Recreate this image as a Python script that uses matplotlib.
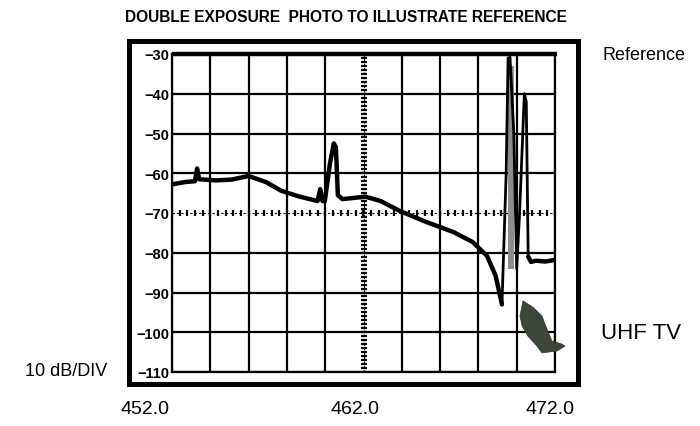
import matplotlib
matplotlib.use("Agg")
import matplotlib.pyplot as plt
from matplotlib.patches import Rectangle
import numpy as np

# ---------------- data ----------------
title = "DOUBLE EXPOSURE  PHOTO TO ILLUSTRATE REFERENCE"
x_tick_values = [452.0, 462.0, 472.0]
x_tick_labels = ["452.0", "462.0", "472.0"]
y_tick_values = [-30, -40, -50, -60, -70, -80, -90, -100, -110]
y_tick_labels = ["\u221230", "\u221240", "\u221250", "\u221260", "\u221270",
                 "\u221280", "\u221290", "\u2212100", "\u2212110"]

# measured spectrum trace (MHz, dBm)
trace_freq = [452.0, 452.7, 453.2, 453.31, 453.42, 454.3, 455.1, 456.0, 456.9,
              457.7, 458.6, 459.6, 459.74, 459.86, 459.98, 460.25, 460.45,
              460.56, 460.66, 460.9, 461.5, 462.1, 462.9, 463.9, 465.3, 466.7,
              467.7, 468.45, 468.9, 469.23, 469.45, 469.55, 469.65, 469.85,
              470.0, 470.15, 470.4, 470.5, 470.6, 470.75, 471.0, 471.5, 472.0]
trace_level = [-62.8, -62.2, -62.0, -58.8, -61.5, -61.8, -61.6, -60.7, -62.2,
               -64.4, -65.8, -67.0, -64.0, -67.0, -67.0, -57.5, -52.5,
               -53.5, -65.5, -66.5, -66.2, -65.9, -67.0, -69.5, -72.3, -74.8,
               -77.3, -80.8, -85.8, -93.0, -60.0, -31.0, -30.8, -50.0,
               -84.0, -70.0, -40.0, -42.0, -81.0, -82.3, -82.0, -82.2, -81.8]

# reference level trace
ref_freq = [452.0, 472.1]
ref_level = [-30.0, -30.0]

# overlapping exposures of the strong carrier (grey band)
band_freq = [469.52, 469.88]
band_low = [-84.0, -84.0]
band_high = [-33.0, -33.0]

# UHF TV signal from second exposure (outline)
tv_freq = [470.33, 470.85, 471.32, 471.58, 471.84, 472.37, 472.52, 472.11,
           471.32, 471.06, 470.59, 470.28, 470.17]
tv_level = [-92.1, -93.7, -95.9, -99.2, -102.2, -103.0, -103.5, -104.7,
            -105.2, -103.5, -101.0, -98.4, -95.9]

# ---------------- figure ----------------
plt.rcParams['font.family'] = ['Liberation Sans', 'DejaVu Sans']
fig = plt.figure(figsize=(7.0, 4.27), dpi=100)
fig.patch.set_facecolor('white')

ax = fig.add_axes([172 / 700, 1 - 373 / 427, 383 / 700, 318 / 427])
ax.set_xlim(452, 472)
ax.set_ylim(-110, -30)

# graticule
for xv in np.arange(452, 472.01, 2):
    if abs(xv - 462) < 1e-6:
        continue
    ax.axvline(xv, color='black', lw=1.6, zorder=1)
for yv in np.arange(-110, -29, 10):
    if yv == -70:
        continue
    ax.axhline(yv, color='black', lw=1.6, zorder=1)
# centre lines with minor ticks
ax.axhline(-70, color='black', lw=0.8, ls=(0, (2, 2)), zorder=1)
ax.plot(np.arange(452, 472.01, 0.4), np.full(51, -70.0), ls='none',
        marker='|', ms=5, mew=1.6, color='black', zorder=1)
ax.axvline(462, color='black', lw=0.8, ls=(0, (2, 2)), zorder=1)
ax.plot(np.full(81, 462.0), np.arange(-110, -29.9, 1.0), ls='none',
        marker='_', ms=5, mew=1.6, color='black', zorder=1)

for s in ax.spines.values():
    s.set_linewidth(1.6)
    s.set_color('black')

# grey band + traces
ax.fill_between(band_freq, band_low, band_high, color='#8c8c8c', lw=0, zorder=2)
ax.plot(ref_freq, ref_level, color='black', lw=3.2, zorder=3, clip_on=False,
        solid_capstyle='butt')
ax.plot(trace_freq, trace_level, color='black', lw=2.0, zorder=4,
        solid_joinstyle='round')
n_noise = sum(1 for f in trace_freq if f <= 469.3)
ax.plot(trace_freq[:n_noise], trace_level[:n_noise], color='black', lw=3.2,
        zorder=4, solid_joinstyle='round', solid_capstyle='round')
n_tail = sum(1 for f in trace_freq if f < 470.6)
ax.plot(trace_freq[n_tail:], trace_level[n_tail:], color='black', lw=3.2,
        zorder=4, solid_joinstyle='round', solid_capstyle='round')
ax.fill(tv_freq, tv_level, color='#3c4639', lw=0.5, ec='#2e352b', zorder=4,
        clip_on=False)

# ticks
ax.set_yticks(y_tick_values)
ax.set_yticklabels(y_tick_labels, family=['Liberation Sans Narrow', 'Liberation Sans', 'DejaVu Sans'],
                   fontsize=10.5, fontweight='bold')
ax.tick_params(axis='y', length=0, pad=2)
ax.set_xticks([])

# outer frame
fig.patches.append(Rectangle((129 / 700, 1 - 385 / 427), 449 / 700, 343 / 427,
                             transform=fig.transFigure, fill=False,
                             ec='black', lw=3.6, zorder=0))

# x labels below frame
x_label_px = [145, 355, 550]
for lab, px in zip(x_tick_labels, x_label_px):
    fig.text(px / 700, 1 - 410 / 427, lab, ha='center', va='center',
             fontsize=14)

fig.text(346 / 700, 1 - 18 / 427, title, ha='center', va='center',
         fontsize=11.2, fontweight='bold')
fig.text(644 / 700, 1 - 55 / 427, "Reference", ha='center', va='center',
         fontsize=13)
fig.text(641 / 700, 1 - 334 / 427, "UHF TV", ha='center', va='center',
         fontsize=16)
fig.text(66 / 700, 1 - 372 / 427, "10 dB/DIV", ha='center', va='center',
         fontsize=13)

fig.savefig("out.png", dpi=100, facecolor='white')
